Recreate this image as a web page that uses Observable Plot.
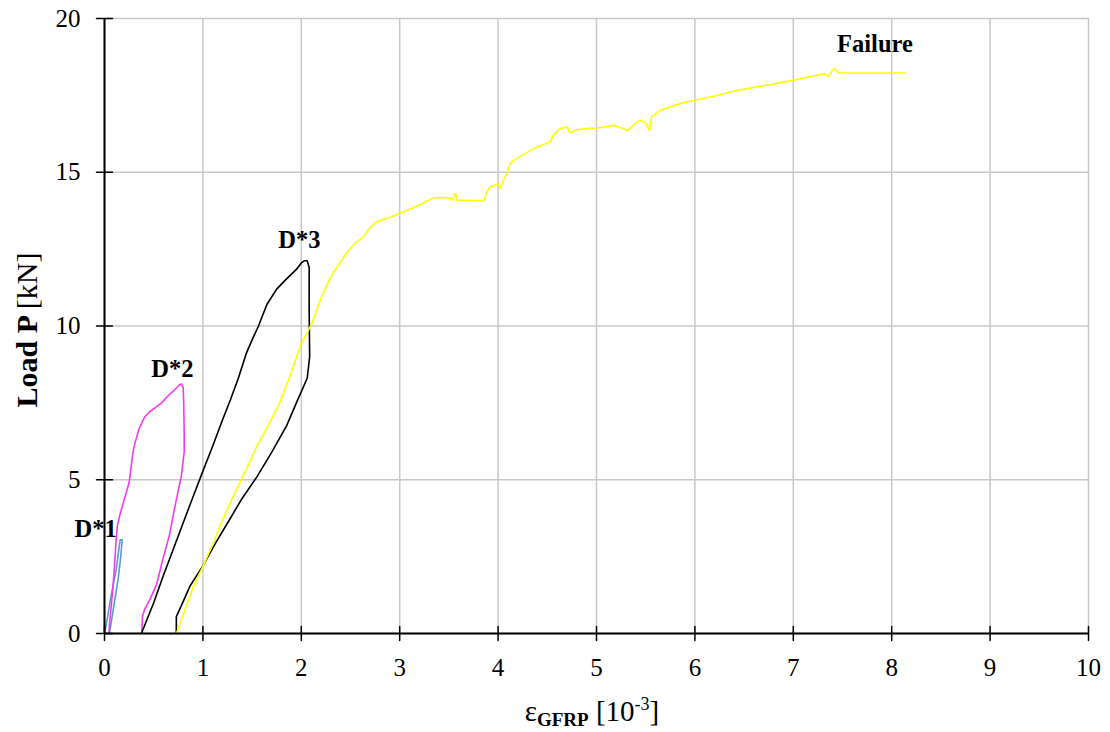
<!DOCTYPE html>
<html><head><meta charset="utf-8">
<script src="https://cdn.jsdelivr.net/npm/d3@7"></script>
<script src="https://cdn.jsdelivr.net/npm/@observablehq/plot@0.6"></script>
<style>body{margin:0;background:#fff}#chart{width:1110px;height:732px}</style>
</head><body><div id="chart"></div>
<script>
const xTicks = [0,1,2,3,4,5,6,7,8,9,10];
const yTicks = [0,5,10,15,20];

const seriesD1 = [[0,0],[0.03,0.5],[0.06,1.1],[0.09,1.6],[0.12,2.1],[0.14,2.6],[0.16,3.05],[0.18,3.05],[0.165,2.5],[0.14,1.8],[0.11,1.2],[0.08,0.6],[0.05,0]];
const seriesD2 = [[0.044,0],[0.06,0.6],[0.08,1.3],[0.1,2.1],[0.115,2.9],[0.13,3.5],[0.16,3.9],[0.2,4.35],[0.25,4.9],[0.27,5.4],[0.29,5.9],[0.31,6.2],[0.35,6.65],[0.41,7.05],[0.46,7.22],[0.52,7.35],[0.58,7.5],[0.66,7.77],[0.72,7.95],[0.76,8.08],[0.78,8.12],[0.8,8.0],[0.805,7.5],[0.81,6.5],[0.81,5.9],[0.78,5.1],[0.72,4.2],[0.66,3.2],[0.6,2.5],[0.53,1.6],[0.46,1.1],[0.41,0.8],[0.385,0.55],[0.38,0]];
const seriesD3 = [[0.375,0],[0.5,1.0],[0.6,1.9],[0.7,2.75],[0.8,3.6],[0.9,4.45],[0.99,5.2],[1.1,6.1],[1.2,6.95],[1.28,7.6],[1.36,8.3],[1.44,9.1],[1.5,9.55],[1.565,10.0],[1.65,10.7],[1.75,11.2],[1.84,11.5],[1.95,11.84],[2.0,12.05],[2.03,12.12],[2.06,12.12],[2.08,11.9],[2.08,10.5],[2.085,9.0],[2.06,8.3],[1.95,7.5],[1.85,6.75],[1.7,5.9],[1.55,5.1],[1.4,4.4],[1.27,3.7],[1.13,2.95],[1.0,2.2],[0.87,1.55],[0.78,0.9],[0.73,0.55],[0.73,0]];
const seriesFail = [[0.73,0],[0.8,0.6],[0.9,1.5],[0.985,2.08],[1.1,2.9],[1.2,3.7],[1.31,4.47],[1.45,5.4],[1.55,6.1],[1.67,6.8],[1.78,7.5],[1.9,8.5],[1.99,9.35],[2.11,10.1],[2.2,10.9],[2.29,11.55],[2.38,12.0],[2.46,12.38],[2.55,12.7],[2.63,12.9],[2.7,13.2],[2.77,13.4],[2.87,13.5],[2.97,13.62],[3.1,13.8],[3.21,13.95],[3.3,14.1],[3.35,14.17],[3.45,14.18],[3.52,14.15],[3.54,14.08],[3.555,14.3],[3.57,14.28],[3.58,14.1],[3.7,14.08],[3.86,14.08],[3.88,14.35],[3.92,14.52],[4.0,14.63],[4.02,14.47],[4.05,14.7],[4.09,14.96],[4.12,15.28],[4.19,15.45],[4.36,15.77],[4.53,15.99],[4.56,16.2],[4.63,16.42],[4.7,16.47],[4.73,16.28],[4.8,16.38],[4.9,16.42],[5.0,16.44],[5.1,16.48],[5.17,16.53],[5.27,16.42],[5.32,16.36],[5.38,16.55],[5.44,16.7],[5.5,16.6],[5.54,16.36],[5.56,16.8],[5.65,17.02],[5.75,17.13],[5.86,17.24],[6.0,17.34],[6.2,17.48],[6.4,17.64],[6.6,17.76],[6.75,17.84],[6.9,17.93],[7.0,17.99],[7.15,18.1],[7.32,18.2],[7.36,18.12],[7.4,18.33],[7.42,18.37],[7.46,18.23],[7.8,18.23],[8.14,18.23]];

const seriesNames = ["D*1","D*2","D*3","Failure"];
const seriesColors = ["#5b9bd5","#f03cf0","#000000","#ffff00"];
const labelX = [-0.09,0.69,1.98,7.83];
const labelY = [3.38,8.6,12.8,19.15];

const rows = [seriesD1,seriesD2,seriesD3,seriesFail].flatMap((s,i)=>s.map(([x,y])=>({x,y,series:seriesNames[i]})));
const labels = seriesNames.map((t,i)=>({x:labelX[i],y:labelY[i],text:t}));

const FONT = "'Liberation Serif', 'Times New Roman', Times, serif";
const W = 1110, H = 732;
const chart = Plot.plot({
  width: W, height: H,
  marginLeft: 104, marginRight: 22, marginTop: 18, marginBottom: 99,
  style: {fontFamily: FONT, fontSize: "25px", background: "#fff", color: "#000"},
  x: {domain: [0,10]},
  y: {domain: [0,20]},
  color: {domain: seriesNames, range: seriesColors},
  marks: [
    Plot.gridX(xTicks, {stroke: "#c8c8c8", strokeOpacity: 1, strokeWidth: 1.5}),
    Plot.gridY(yTicks, {stroke: "#c8c8c8", strokeOpacity: 1, strokeWidth: 1.5}),
    Plot.line(rows, {x: "x", y: "y", z: "series", stroke: "series", strokeWidth: 1.6, curve: "linear"}),
    Plot.ruleX([0], {stroke: "#000", strokeWidth: 2}),
    Plot.ruleY([0], {stroke: "#000", strokeWidth: 2}),
    Plot.vector(xTicks, {x: d => d, y: 0, length: 14, anchor: "middle", rotate: 0, r: 0, stroke: "#000", strokeWidth: 1.5}),
    Plot.vector(yTicks, {x: 0, y: d => d, length: 16, anchor: "middle", rotate: 90, r: 0, stroke: "#000", strokeWidth: 1.5}),
    Plot.axisX(xTicks, {tickSize: 0, tickPadding: 25, label: null, fontSize: 25}),
    Plot.axisY(yTicks, {tickSize: 0, tickPadding: 24, label: null, fontSize: 25}),
    Plot.text(labels, {x: "x", y: "y", text: "text", fontWeight: "bold", fontSize: 24.5, fill: "#000"})
  ]
});
document.getElementById("chart").appendChild(chart);

const svg = d3.select(chart);
const yt = svg.append("text")
  .attr("transform", "translate(26,330) rotate(-90)")
  .attr("text-anchor", "middle").attr("dominant-baseline", "central")
  .style("font-family", FONT).style("font-size", "30px").attr("fill", "#000");
yt.append("tspan").attr("font-weight", "bold").text("Load P ");
yt.append("tspan").text("[kN]");

const xt = svg.append("text")
  .attr("x", 592).attr("y", 721)
  .attr("text-anchor", "middle")
  .style("font-family", FONT).style("font-size", "29px").attr("fill", "#000");
xt.append("tspan").text("ε");
xt.append("tspan").attr("font-weight", "bold").attr("font-size", "19px").attr("dy", 5).text("GFRP");
xt.append("tspan").attr("dy", -5).text(" [10");
xt.append("tspan").attr("font-size", "18px").attr("dy", -11).text("-3");
xt.append("tspan").attr("dy", 11).text("]");
</script>
</body></html>
